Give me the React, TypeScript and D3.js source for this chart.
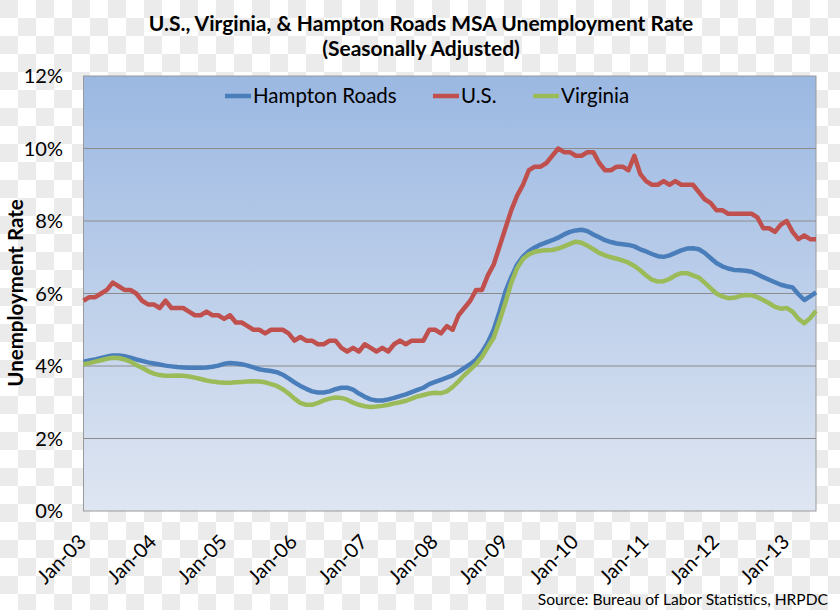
import React from "react";
import * as d3 from "d3";

const W = 840;
const H = 610;

const tickLabels = ["Jan-03","Jan-04","Jan-05","Jan-06","Jan-07","Jan-08","Jan-09","Jan-10","Jan-11","Jan-12","Jan-13"];
const yTicks = [0, 2, 4, 6, 8, 10, 12];

const seriesNames = ["Hampton Roads", "U.S.", "Virginia"];
const seriesColors = ["#4a7ebb", "#c0504d", "#9bbb59"];

const usRate = [
  5.8, 5.9, 5.9, 6.0, 6.1, 6.3, 6.2, 6.1, 6.1, 6.0, 5.8, 5.7,
  5.7, 5.6, 5.8, 5.6, 5.6, 5.6, 5.5, 5.4, 5.4, 5.5, 5.4, 5.4,
  5.3, 5.4, 5.2, 5.2, 5.1, 5.0, 5.0, 4.9, 5.0, 5.0, 5.0, 4.9,
  4.7, 4.8, 4.7, 4.7, 4.6, 4.6, 4.7, 4.7, 4.5, 4.4, 4.5, 4.4,
  4.6, 4.5, 4.4, 4.5, 4.4, 4.6, 4.7, 4.6, 4.7, 4.7, 4.7, 5.0,
  5.0, 4.9, 5.1, 5.0, 5.4, 5.6, 5.8, 6.1, 6.1, 6.5, 6.8, 7.3,
  7.8, 8.3, 8.7, 9.0, 9.4, 9.5, 9.5, 9.6, 9.8, 10.0, 9.9, 9.9,
  9.8, 9.8, 9.9, 9.9, 9.6, 9.4, 9.4, 9.5, 9.5, 9.4, 9.8, 9.3,
  9.1, 9.0, 9.0, 9.1, 9.0, 9.1, 9.0, 9.0, 9.0, 8.8, 8.6, 8.5,
  8.3, 8.3, 8.2, 8.2, 8.2, 8.2, 8.2, 8.1, 7.8, 7.8, 7.7, 7.9,
  8.0, 7.7, 7.5, 7.6, 7.5, 7.5,
];

const hamptonRoads = [
  4.12, 4.15, 4.18, 4.22, 4.26, 4.29, 4.29, 4.27, 4.23, 4.18, 4.14, 4.10,
  4.07, 4.04, 4.01, 3.99, 3.97, 3.96, 3.95, 3.95, 3.95, 3.96, 3.98, 4.01,
  4.06, 4.08, 4.07, 4.05, 4.01, 3.96, 3.91, 3.88, 3.86, 3.83, 3.76, 3.66,
  3.55, 3.45, 3.37, 3.30, 3.27, 3.27, 3.30, 3.36, 3.40, 3.40, 3.35, 3.24,
  3.15, 3.08, 3.05, 3.05, 3.08, 3.12, 3.17, 3.22, 3.28, 3.34, 3.40, 3.50,
  3.56, 3.62, 3.68, 3.74, 3.84, 3.95, 4.05, 4.18, 4.38, 4.65, 5.00, 5.50,
  6.05, 6.45, 6.80, 7.02, 7.17, 7.27, 7.35, 7.41, 7.47, 7.54, 7.63, 7.70,
  7.74, 7.76, 7.72, 7.63, 7.55, 7.47, 7.42, 7.38, 7.36, 7.34, 7.30, 7.22,
  7.16, 7.09, 7.03, 7.01, 7.05, 7.12, 7.19, 7.24, 7.25, 7.22, 7.12, 6.98,
  6.84, 6.75, 6.69, 6.65, 6.64, 6.63, 6.60, 6.53, 6.45, 6.38, 6.31, 6.24,
  6.20, 6.17, 5.98, 5.82, 5.92, 6.03,
];

const virginia = [
  4.05, 4.08, 4.12, 4.16, 4.20, 4.23, 4.22, 4.18, 4.12, 4.03, 3.95, 3.86,
  3.79, 3.75, 3.73, 3.73, 3.74, 3.73, 3.71, 3.68, 3.64, 3.60, 3.57, 3.55,
  3.54, 3.54, 3.55, 3.56, 3.57, 3.58, 3.57, 3.55, 3.50, 3.45, 3.36, 3.24,
  3.10, 2.98, 2.93, 2.93, 2.98, 3.05, 3.10, 3.13, 3.12, 3.07, 2.99, 2.93,
  2.89, 2.87, 2.88, 2.90, 2.93, 2.97, 3.00, 3.04, 3.10, 3.16, 3.20, 3.24,
  3.26, 3.25, 3.30, 3.42, 3.58, 3.75, 3.90, 4.05, 4.25, 4.52, 4.78, 5.25,
  5.75, 6.30, 6.70, 6.95, 7.08, 7.15, 7.18, 7.19, 7.20, 7.24, 7.30, 7.37,
  7.43, 7.40, 7.32, 7.22, 7.12, 7.05, 7.00, 6.96, 6.91, 6.85, 6.76, 6.64,
  6.50, 6.38, 6.33, 6.34, 6.40, 6.50, 6.56, 6.56, 6.50, 6.44, 6.30, 6.15,
  6.00, 5.92, 5.87, 5.88, 5.93, 5.96, 5.95, 5.90, 5.82, 5.73, 5.63, 5.58,
  5.60, 5.50, 5.30, 5.18, 5.32, 5.52,
];

const seriesValues = [hamptonRoads, usRate, virginia];

const FONT = "Lato, 'Open Sans', sans-serif";

export default function App() {
  const left = 83.5, right = 816, top = 76, bottom = 511;
  const n = usRate.length;
  const x = d3.scaleLinear().domain([0, n - 1]).range([left, right]);
  const y = d3.scaleLinear().domain([0, 12]).range([bottom, top]);
  const line = d3.line<number>().x((_, i) => x(i)).y((v) => y(v)).curve(d3.curveLinear);

  const legendItems = [
    { sx: 225, tx: 253 },
    { sx: 433, tx: 461 },
    { sx: 533, tx: 561 },
  ];

  return (
    <svg width={W} height={H} style={{ position: "absolute", left: 0, top: 0, background: "#fff" }} fontFamily={FONT}>
      <defs>
        <linearGradient id="bg" x1="0" y1="0" x2="0" y2="1">
          <stop offset="0" stopColor="#9bb8e2" />
          <stop offset="1" stopColor="#dfe6f2" />
        </linearGradient>
        <pattern id="chk" width="36" height="36" patternUnits="userSpaceOnUse">
          <rect width="36" height="36" fill="#ffffff" />
          <rect width="18" height="18" fill="#ebebeb" />
          <rect x="18" y="18" width="18" height="18" fill="#ebebeb" />
        </pattern>
      </defs>
      <rect width={W} height={H} fill="url(#chk)" />
      <text x={421} y={31} textAnchor="middle" fontSize={21} fontWeight="bold" fill="#000">
        U.S., Virginia, &amp; Hampton Roads MSA Unemployment Rate
      </text>
      <text x={421} y={56} textAnchor="middle" fontSize={21} fontWeight="bold" fill="#000">
        (Seasonally Adjusted)
      </text>
      <rect x={left} y={top} width={right - left} height={bottom - top} fill="url(#bg)" stroke="#9a9a9a" strokeWidth={1} />
      {yTicks.map((t) => (
        <g key={t}>
          {t > 0 && t < 12 && (
            <line x1={left} x2={right} y1={y(t)} y2={y(t)} stroke="#8c8c8c" strokeWidth={1} />
          )}
          <text x={63} y={y(t)} dy="0.35em" textAnchor="end" fontSize={20} fill="#000">
            {t}%
          </text>
        </g>
      ))}
      <text transform={`translate(23,293) rotate(-90)`} textAnchor="middle" fontSize={20.5} fontWeight="bold" fill="#000">
        Unemployment Rate
      </text>
      {tickLabels.map((lab, k) => (
        <text key={lab} transform={`translate(${x(k * 12) + 4},543) rotate(-45)`} textAnchor="end" fontSize={20} fill="#000">
          {lab}
        </text>
      ))}
      {seriesValues.map((vals, s) => (
        <path key={s} d={line(vals) || ""} fill="none" stroke={seriesColors[s]} strokeWidth={4.5} strokeLinejoin="round" />
      ))}
      {seriesNames.map((name, s) => (
        <g key={name}>
          <line x1={legendItems[s].sx} x2={legendItems[s].sx + 26} y1={96} y2={96} stroke={seriesColors[s]} strokeWidth={4.5} />
          <text x={legendItems[s].tx} y={96} dy="0.35em" fontSize={20.5} fill="#000">
            {name}
          </text>
        </g>
      ))}
      <text x={828} y={605} textAnchor="end" fontSize={15.6} fill="#000">
        Source: Bureau of Labor Statistics, HRPDC
      </text>
    </svg>
  );
}
